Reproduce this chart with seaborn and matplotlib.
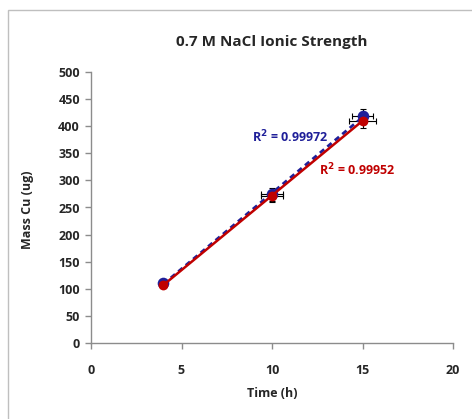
import matplotlib
matplotlib.use("Agg")
import matplotlib.pyplot as plt
import seaborn as sns
import pandas as pd
from matplotlib.patches import Rectangle

# Data
time_h = [4, 10, 15]
mass_blue = [110, 274, 418]
mass_red = [107, 272, 410]
yerr_blue = [0, 12, 14]
xerr_blue = [0, 0.6, 0.6]
yerr_red = [0, 11, 13]
xerr_red = [0, 0.6, 0.75]
x_ticks = [0, 5, 10, 15, 20]
y_ticks = [0, 50, 100, 150, 200, 250, 300, 350, 400, 450, 500]
title = "0.7 M NaCl Ionic Strength"
xlabel = "Time (h)"
ylabel = "Mass Cu (ug)"
r2_blue = "R$^2$ = 0.99972"
r2_red = "R$^2$ = 0.99952"

sns.set_style("white")
plt.rcParams["font.family"] = ["Open Sans", "DejaVu Sans"]
plt.rcParams["font.weight"] = "bold"
plt.rcParams["mathtext.default"] = "bf"

df_b = pd.DataFrame({"t": time_h, "m": mass_blue})
df_r = pd.DataFrame({"t": time_h, "m": mass_red})

fig = plt.figure(figsize=(4.72, 4.19), dpi=100)
ax = fig.add_axes([91/472, 1-343/419, (453-91)/472, (343-72)/419])

blue = "#1F1F99"
red = "#C00000"

ax.errorbar(time_h, mass_blue, yerr=yerr_blue, xerr=xerr_blue, fmt="none",
            ecolor="black", elinewidth=0.8, capsize=2.5, capthick=0.8, zorder=2)
ax.errorbar(time_h, mass_red, yerr=yerr_red, xerr=xerr_red, fmt="none",
            ecolor="black", elinewidth=0.8, capsize=2.5, capthick=0.8, zorder=2)

sns.scatterplot(data=df_b, x="t", y="m", ax=ax, color=blue, s=70,
                edgecolor=blue, linewidth=0, zorder=3)
sns.regplot(data=df_b, x="t", y="m", ax=ax, ci=None, scatter=False, truncate=True,
            line_kws=dict(color=blue, lw=2, ls=(0, (2, 1.5)), zorder=4))
sns.scatterplot(data=df_r, x="t", y="m", ax=ax, color=red, s=50,
                edgecolor=red, linewidth=0, zorder=5)
sns.regplot(data=df_r, x="t", y="m", ax=ax, ci=None, scatter=False, truncate=True,
            line_kws=dict(color=red, lw=1.8, zorder=6))

fs = 9
ax.set_xlim(0, 20)
ax.set_ylim(0, 500)
ax.set_xticks(x_ticks)
ax.set_yticks(y_ticks)
ax.set_xticklabels([str(v) for v in x_ticks], fontsize=fs, fontweight="bold")
ax.set_yticklabels([str(v) for v in y_ticks], fontsize=fs, fontweight="bold")
ax.set_xlabel("")
ax.set_ylabel("")
for s in ["top", "right"]:
    ax.spines[s].set_visible(False)
for s in ["left", "bottom"]:
    ax.spines[s].set_color("#8C8C8C")
    ax.spines[s].set_linewidth(1)
ax.tick_params(axis="both", direction="out", length=4, width=1, color="#8C8C8C",
               left=True, bottom=True, pad=4)
ax.tick_params(axis="x", pad=11)

ax.text(8.9, 380, r2_blue, color=blue, fontsize=fs, fontweight="bold", va="center")
ax.text(12.6, 319, r2_red, color=red, fontsize=fs, fontweight="bold", va="center")

fig.text(272/472, 1-42/419, title, ha="center", va="center", fontsize=11, fontweight="bold")
fig.text(272/472, 1-393/419, xlabel, ha="center", va="center", fontsize=fs, fontweight="bold")
fig.text(28/472, 1-210/419, ylabel, ha="center", va="center", fontsize=fs,
         fontweight="bold", rotation=90)

fig.patches.append(Rectangle((8/472, -0.05), 1.2, 1-10/419+0.05, transform=fig.transFigure,
                             fill=False, edgecolor="#BFBFBF", lw=1))

fig.savefig("out.png", dpi=100)
